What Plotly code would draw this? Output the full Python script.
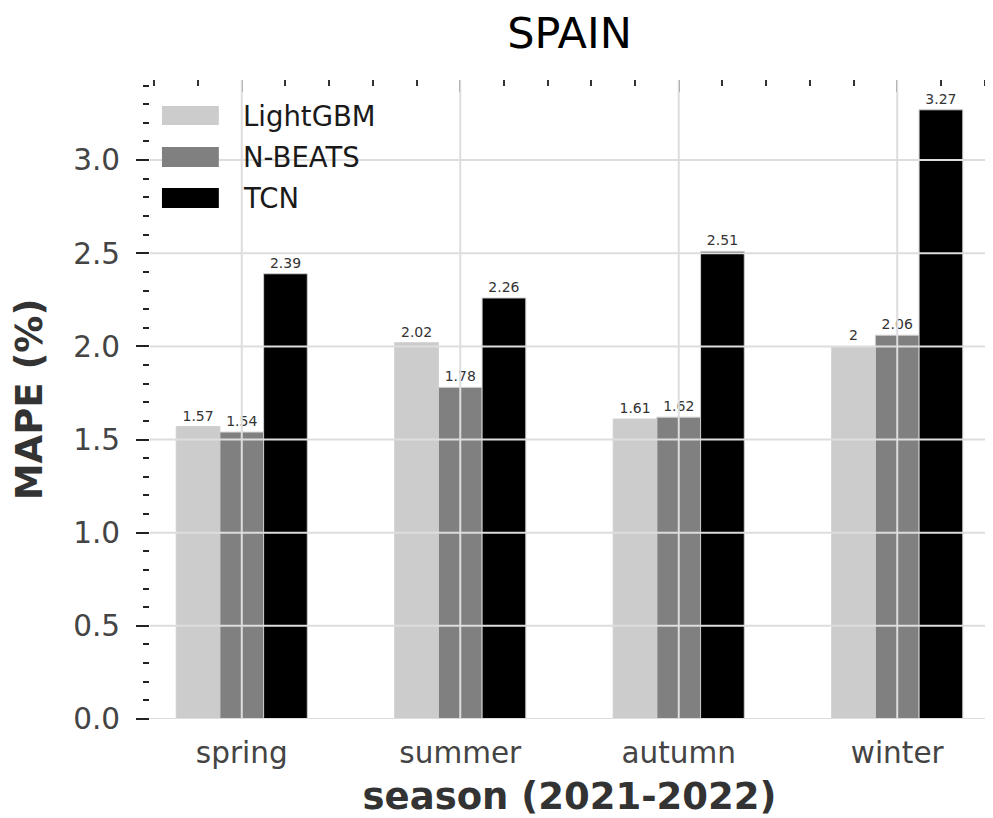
import plotly.graph_objects as go

seasons = ["spring", "summer", "autumn", "winter"]
lightgbm = [1.57, 2.02, 1.61, 2.00]
nbeats = [1.54, 1.78, 1.62, 2.06]
tcn = [2.39, 2.26, 2.51, 3.27]
models = ["LightGBM", "N-BEATS", "TCN"]
colors = ["#cccccc", "#808080", "#000000"]
y_ticks = [0.0, 0.5, 1.0, 1.5, 2.0, 2.5, 3.0]
y_ticktext = ["0.0", "0.5", "1.0", "1.5", "2.0", "2.5", "3.0"]

FONT = "DejaVu Sans"
positions = list(range(len(seasons)))
x_range = [-0.42, 3.42]
y_range = [0, 3.43]

fig = go.Figure()
for name, vals, col in zip(models, [lightgbm, nbeats, tcn], colors):
    fig.add_trace(go.Bar(
        x=positions, y=vals, name=name,
        marker=dict(color=col, line=dict(color="#cfcfcf", width=1)),
        text=[f"{v:g}" for v in vals], textposition="outside",
        textfont=dict(family=FONT, size=14, color="#333333"),
        constraintext="none", cliponaxis=False, showlegend=False,
    ))

# invisible helper so the mirrored top/right tick axes are drawn
fig.add_trace(go.Scatter(x=positions, y=tcn, xaxis="x2", yaxis="y2", mode="markers",
                         marker=dict(opacity=0), hoverinfo="skip", showlegend=False))

shapes = []
# grid drawn above bars
for p in positions:
    shapes.append(dict(type="line", xref="x", yref="paper", x0=p, x1=p, y0=0, y1=1,
                       line=dict(color="#dddddd", width=2), layer="above"))
for t in y_ticks:
    shapes.append(dict(type="line", xref="paper", yref="y", x0=0, x1=1, y0=t, y1=t,
                       line=dict(color="#dddddd", width=2), layer="above"))

# manual legend (wide swatches)
annotations = []
H = 639.0
W = 841.0
leg_rows = [(106, 125), (147, 167), (188, 208)]
for (top, bot), name, col in zip(leg_rows, models, colors):
    y0 = (719 - bot) / H
    y1 = (719 - top) / H
    shapes.append(dict(type="rect", xref="paper", yref="paper",
                       x0=(162 - 150) / W, x1=(219 - 150) / W, y0=y0, y1=y1,
                       fillcolor=col, line=dict(width=0), layer="above"))
    annotations.append(dict(xref="paper", yref="paper", x=(241 - 150) / W,
                            y=(y0 + y1) / 2, text=name, showarrow=False,
                            xanchor="left", yanchor="middle",
                            font=dict(family=FONT, size=27.5, color="#1a1a1a")))

FIG_W, FIG_H = 985, 810
fig.update_layout(
    width=FIG_W, height=FIG_H,
    margin=dict(l=142, r=2, t=72, b=99),
    plot_bgcolor="white", paper_bgcolor="white",
    barmode="group", bargap=0.4, bargroupgap=0,
    font=dict(family=FONT, color="#444444"),
    title=dict(text="SPAIN", x=0.5, xref="paper", y=1 - 25 / FIG_H, yref="container",
               xanchor="center", yanchor="middle",
               font=dict(family=FONT, size=43, color="#000000")),
    xaxis=dict(range=x_range, tickmode="array", tickvals=positions, ticktext=seasons,
               ticks="", showgrid=False, zeroline=False, showline=False,
               ticklabelstandoff=13,
               tickfont=dict(family=FONT, size=29.5, color="#444444"),
               title=dict(text="<b>season (2021-2022)</b>", standoff=15,
                          font=dict(family=FONT, size=37, color="#333333"))),
    yaxis=dict(range=y_range, tickmode="array", tickvals=y_ticks, ticktext=y_ticktext,
               ticks="outside", ticklen=13, tickwidth=2, tickcolor="#222222",
               minor=dict(tickmode="linear", tick0=0, dtick=0.1, ticks="outside",
                          ticklen=6, tickwidth=2, tickcolor="#222222", showgrid=False),
               showgrid=False, zeroline=False, showline=False,
               ticklabelstandoff=10,
               tickfont=dict(family=FONT, size=29.5, color="#444444"),
               title=dict(text="<b>MAPE (%)</b>", standoff=22,
                          font=dict(family=FONT, size=37, color="#333333"))),
    xaxis2=dict(range=x_range, overlaying="x", side="top", anchor="y",
                tickmode="array", tickvals=positions, ticks="inside", ticklen=12,
                tickwidth=2, tickcolor="#333333", showticklabels=False,
                showgrid=False, zeroline=False, showline=False,
                minor=dict(tickmode="linear", tick0=0, dtick=0.2, ticks="inside",
                           ticklen=6, tickwidth=2, tickcolor="#333333")),
    yaxis2=dict(range=y_range, overlaying="y", side="right", anchor="x",
                tickmode="array", tickvals=y_ticks, ticks="outside", ticklen=2,
                tickwidth=2, tickcolor="#333333", showticklabels=False,
                showgrid=False, zeroline=False, showline=False),
    shapes=shapes, annotations=annotations,
)

fig.write_html("out.html")
